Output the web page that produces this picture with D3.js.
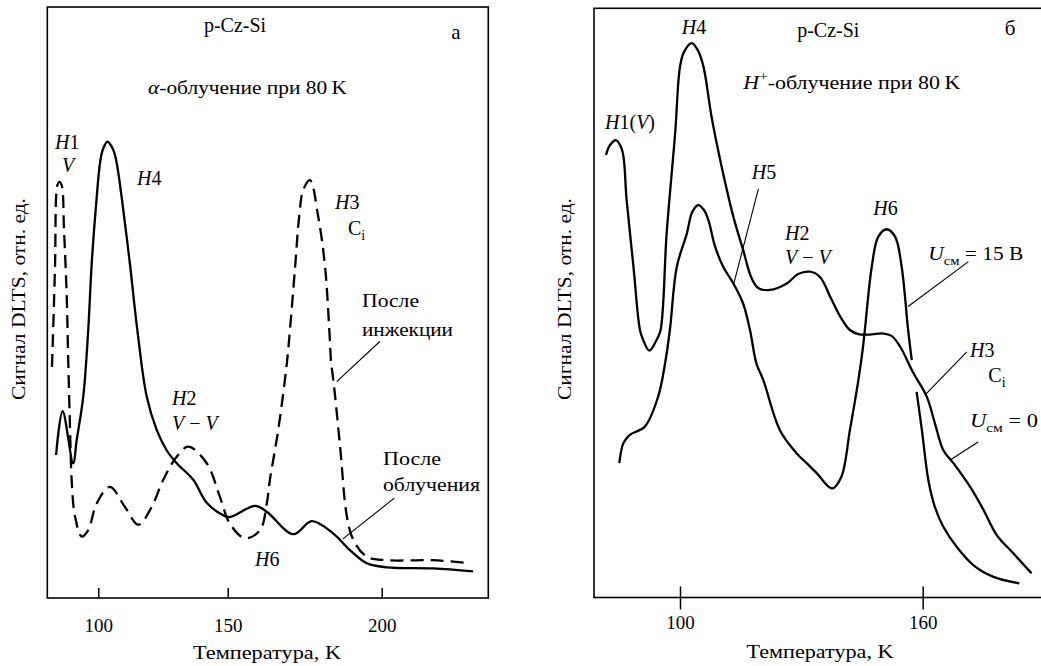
<!DOCTYPE html>
<html><head><meta charset="utf-8">
<script src="https://cdn.jsdelivr.net/npm/d3@7"></script>
<style>
body{margin:0;background:#fff}
svg{display:block}
text{font-family:"Liberation Serif","Times New Roman",serif;fill:#000}
</style>
</head><body>
<svg id="chart" width="1041" height="666"></svg>
<script>
// ---------- data (temperature K, DLTS signal in arbitrary units) ----------
const ticksA = [100, 150, 200];
const ticksB = [100, 160];

// Panel а: alpha irradiation
const afterIrradiation = [
  [83.7,24.2],[86.2,31.6],[90.3,22.8],[91.65,26.7],[94.2,34.1],[96.1,45.3],[97.45,56.6],[99.4,67.9],
  [100.66,73.6],[101.7,75.8],[103.5,77.2],[105.8,75.8],[107.1,73.6],[109.0,67.9],[112.2,56.6],[115.1,45.3],
  [118.7,34.1],[122.6,28.4],[126.4,25.0],[130.3,22.8],[136.7,20.0],[141.9,16.1],[148.3,14.0],
  [150.7,13.7],[158.9,15.6],[162.7,14.6],[171.3,10.8],[177.3,13.0],[184.3,10.9],[189.7,8.1],[195.1,5.9],
  [201.6,5.2],[216.7,5.0],[229.7,4.5]
];
const afterInjection = [
  [82.1,39.1],[83.3,56.7],[83.7,67.9],[84.2,69.9],[84.9,70.4],[85.8,69.9],[86.75,62.3],[87.8,51.0],
  [88.4,39.8],[89.1,28.4],[89.7,20.0],[91.0,13.8],[93.6,10.4],[96.1,11.5],[99.4,16.0],[104.5,18.8],
  [110.3,15.4],[115.5,12.4],[120.6,15.4],[125.1,20.0],[130.3,23.9],[134.8,25.6],[141.9,22.8],[147.0,17.1],
  [150.7,12.6],[155.6,10.1],[160.5,11.5],[162.7,16.0],[163.7,20.0],[166.4,28.4],[169.2,39.7],[170.2,45.3],
  [171.9,56.1],[173.2,64.5],[174.5,69.0],[176.7,70.7],[179.4,64.5],[181.6,56.1],[183.0,45.3],[183.6,39.7],
  [184.3,36.9],[186.5,25.6],[188.7,13.8],[190.8,9.8],[195.1,7.0],[201.6,6.4],[216.7,6.4],[228.6,5.9]
];
// Panel б: H+ irradiation
const biasZero = [
  [81.7,75.1],[82.7,76.8],[84.2,77.6],[85.7,75.9],[86.8,67.5],[88.5,56.1],[90.1,45.4],[90.9,43.7],
  [92.4,41.9],[94.2,43.7],[95.2,45.4],[96.7,61.8],[98.8,78.8],[100.0,90.1],[101.0,92.6],[102.9,94.1],
  [104.4,92.9],[105.8,90.1],[107.8,81.6],[110.3,73.1],[113.2,64.6],[115.6,59.0],[117.7,54.2],[119.4,52.5],
  [122.2,52.2],[126.4,53.3],[129.2,54.9],[132.1,55.3],[134.6,54.4],[137.1,51.1],[139.6,47.7],[142.0,45.4],
  [144.1,44.7],[146.2,44.6],[150.3,44.8],[152.3,44.4],[154.4,42.6],[157.7,38.1],[161.0,34.1],[163.0,29.6],
  [165.1,25.0],[167.6,22.8],[171.7,18.8],[175.0,14.9],[178.3,10.6],[182.4,7.5],[186.9,4.1]
];
const bias15 = [
  [85.0,22.8],[86.0,26.2],[87.6,27.6],[91.3,29.0],[94.6,34.1],[96.3,39.7],[97.5,45.4],[99.2,56.1],
  [101.7,61.8],[103.0,65.4],[104.5,66.6],[105.9,65.8],[107.0,64.1],[108.7,59.5],[110.7,56.1],[113.2,53.3],
  [115.6,49.9],[117.3,45.4],[118.9,39.7],[120.6,36.9],[124.7,28.4],[128.8,24.5],[131.3,22.8],[133.8,21.1],
  [137.6,18.5],[139.9,20.5],[142.0,28.4],[144.1,36.9],[145.2,42.3],[145.7,45.4],[147.4,56.1],[149.0,61.2],
  [151.1,62.5],[153.2,61.2],[154.8,56.1],[156.4,45.4],[157.3,40.3],
  null,
  [158.5,34.9],[159.8,28.4],[161.4,19.9],[163.0,15.4],[165.1,12.0],[168.4,8.6],[172.5,5.5],[177.5,3.5],[183.9,2.4]
];
// leader lines [from, to] in data units
const leadersA = [
  [[199.4,43.4],[185.4,36.6]],
  [[204.1,16.9],[187.4,10.0]]
];
const leadersB = [
  [[119.4,69.4],[113.2,53.0]],
  [[171.3,57.0],[156.4,49.4]],
  [[170.9,41.7],[160.6,34.4]],
  [[173.7,26.4],[166.7,23.3]]
];
const xTitle = "Температура, K";
const yTitle = "Сигнал DLTS, отн. ед.";
const sample = "p-Cz-Si";

// ---------- drawing ----------
const svg = d3.select("#chart");
svg.append("rect").attr("width",1041).attr("height",666).attr("fill","#fff");
const FS = 20, CY = 19, TFS = 19;

function rich(g, x, y, segs, anchor, size, len){
  const fs = size || FS;
  const t = g.append("text").attr("x",x).attr("y",y).attr("dy","0.35em")
    .attr("text-anchor",anchor||"start").style("font-size",fs+"px");
  if (len) t.attr("textLength",len).attr("lengthAdjust","spacingAndGlyphs");
  let off = 0;
  segs.forEach(s=>{
    if (typeof s === "string") s = {t:s};
    const target = s.sub ? 5 : (s.sup ? -8 : 0);
    const ts = t.append("tspan").text(s.t);
    if (target !== off){ ts.attr("dy", target-off); off = target; }
    if (s.i) ts.style("font-style","italic");
    if (s.sub || s.sup) ts.style("font-size", Math.round(fs*0.7)+"px");
  });
  return t;
}

const line = (x,y)=>d3.line().defined(d=>d!==null).x(d=>x(d[0])).y(d=>y(d[1])).curve(d3.curveCatmullRom.alpha(0.5));

// ----- Panel а -----
const xA = d3.scaleLinear().domain([100,150,200]).range([98.3,227.7,381.7]);
const yA = d3.scaleLinear().domain([0,100]).range([598,7]);
const gA = svg.append("g");
gA.append("rect").attr("x",47.3).attr("y",7).attr("width",441).attr("height",591)
  .attr("fill","none").attr("stroke","#000").attr("stroke-width",1.6);
const axA = gA.append("g").attr("transform","translate(0,598)")
  .call(d3.axisBottom(xA).tickValues(ticksA).tickSize(-10).tickSizeOuter(0).tickPadding(21));
axA.select(".domain").remove();
axA.selectAll("line").attr("stroke","#000").attr("stroke-width",1.5);
axA.selectAll("text").attr("font-family",null).attr("font-size",null).style("font-size",TFS+"px");

gA.append("path").datum(afterIrradiation).attr("d",line(xA,yA))
  .attr("fill","none").attr("stroke","#000").attr("stroke-width",2.3);
gA.append("path").datum(afterInjection).attr("d",line(xA,yA))
  .attr("fill","none").attr("stroke","#000").attr("stroke-width",2.3).attr("stroke-dasharray","13,7");
gA.selectAll(".leader").data(leadersA).join("line")
  .attr("x1",d=>xA(d[0][0])).attr("y1",d=>yA(d[0][1])).attr("x2",d=>xA(d[1][0])).attr("y2",d=>yA(d[1][1]))
  .attr("stroke","#000").attr("stroke-width",1.1);

rich(gA,235,25,[sample],"middle",20);
rich(gA,456,32,["а"],"middle",21);
rich(gA,247.5,87,[{t:"α",i:true},"-облучение при 80\u2009K"],"middle",CY,199);
rich(gA,55,142,[{t:"H",i:true},"1"]);
rich(gA,62,165,[{t:"V",i:true}]);
rich(gA,137,178,[{t:"H",i:true},"4"]);
rich(gA,335,202,[{t:"H",i:true},"3"]);
rich(gA,348,228,["C",{t:"i",sub:true}]);
rich(gA,362,300,["После"],"start",CY,57);
rich(gA,362,329,["инжекции"],"start",CY,91);
rich(gA,172,398,[{t:"H",i:true},"2"]);
rich(gA,172,423,[{t:"V",i:true}," − ",{t:"V",i:true}]);
rich(gA,383,458,["После"],"start",CY,58);
rich(gA,383,484,["облучения"],"start",CY,97);
rich(gA,255,559,[{t:"H",i:true},"6"]);
rich(gA,267,652,[xTitle],"middle",CY,148);
gA.append("text").attr("transform","translate(18,299) rotate(-90)").attr("dy","0.35em")
  .attr("text-anchor","middle").style("font-size",CY+"px")
  .attr("textLength",202).attr("lengthAdjust","spacingAndGlyphs").text(yTitle);

// ----- Panel б -----
const xB = d3.scaleLinear().domain([100,160]).range([680,922.7]);
const yB = d3.scaleLinear().domain([0,100]).range([597.5,8.3]);
const gB = svg.append("g");
gB.append("rect").attr("x",594).attr("y",8.3).attr("width",460).attr("height",589.2)
  .attr("fill","none").attr("stroke","#000").attr("stroke-width",1.6);
const axB = gB.append("g").attr("transform","translate(0,597.5)")
  .call(d3.axisBottom(xB).tickValues(ticksB).tickSize(-11).tickSizeOuter(0).tickPadding(18));
axB.select(".domain").remove();
axB.selectAll("line").attr("y1",-11).attr("y2",12).attr("stroke","#000").attr("stroke-width",1.5);
axB.selectAll("text").attr("font-family",null).attr("font-size",null).style("font-size",TFS+"px");

gB.append("path").datum(biasZero).attr("d",line(xB,yB))
  .attr("fill","none").attr("stroke","#000").attr("stroke-width",2.3);
gB.append("path").datum(bias15).attr("d",line(xB,yB))
  .attr("fill","none").attr("stroke","#000").attr("stroke-width",2.3);
gB.selectAll(".leader").data(leadersB).join("line")
  .attr("x1",d=>xB(d[0][0])).attr("y1",d=>yB(d[0][1])).attr("x2",d=>xB(d[1][0])).attr("y2",d=>yB(d[1][1]))
  .attr("stroke","#000").attr("stroke-width",1.1);

rich(gB,681.7,27,[{t:"H",i:true},"4"]);
rich(gB,828.3,30,[sample],"middle",20);
rich(gB,1010,28,["б"],"middle",21);
rich(gB,743.3,82,[{t:"H",i:true},{t:"+",sup:true},"-облучение при 80\u2009K"],"start",CY,217);
rich(gB,605,122,[{t:"H",i:true},"1(",{t:"V",i:true},")"]);
rich(gB,751.7,172,[{t:"H",i:true},"5"]);
rich(gB,873.3,208,[{t:"H",i:true},"6"]);
rich(gB,785,233,[{t:"H",i:true},"2"]);
rich(gB,785,257,[{t:"V",i:true}," − ",{t:"V",i:true}]);
rich(gB,928.3,253,[{t:"U",i:true},{t:"см",sub:true}," = 15 В"],"start",CY,95);
rich(gB,970,350,[{t:"H",i:true},"3"]);
rich(gB,988.3,375,["C",{t:"i",sub:true}]);
rich(gB,970,420,[{t:"U",i:true},{t:"см",sub:true}," = 0"],"start",CY,68);
rich(gB,820,651,[xTitle],"middle",CY,147);
gB.append("text").attr("transform","translate(564,299) rotate(-90)").attr("dy","0.35em")
  .attr("text-anchor","middle").style("font-size",CY+"px")
  .attr("textLength",202).attr("lengthAdjust","spacingAndGlyphs").text(yTitle);
</script>
</body></html>
